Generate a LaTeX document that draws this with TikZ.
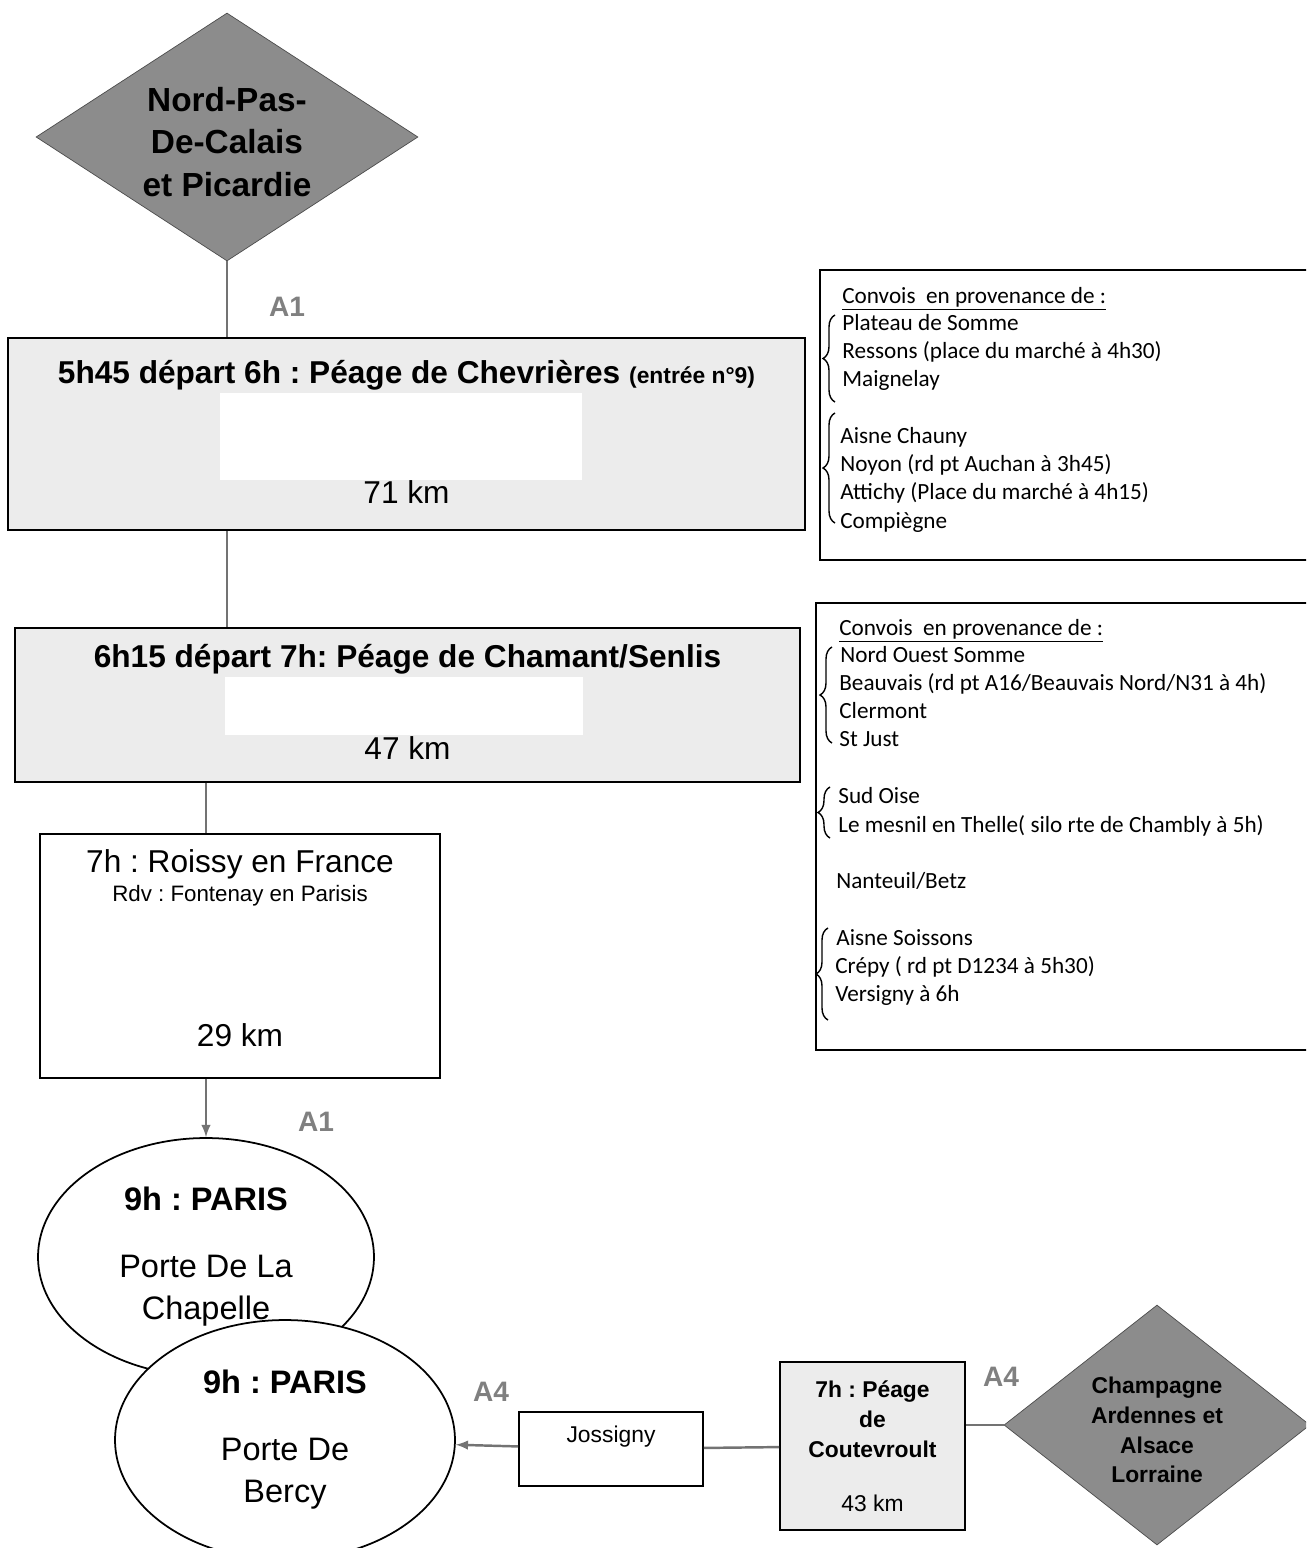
\documentclass[tikz,border=0pt]{standalone}
\usepackage{fontspec}
\setmainfont{Liberation Sans}
\newfontfamily\calib{Carlito}
\usetikzlibrary{shapes.geometric,decorations.pathreplacing}
\frenchspacing

\begin{document}
\begin{tikzpicture}[x=0.02cm,y=-0.02cm,
    link/.style={line width=1.4pt,black!55},
    arrow/.style={link,-latex},
    box/.style={draw,line width=1pt,align=center,inner sep=0pt},
    gbox/.style={box,fill=gray!15},
    region/.style={diamond,draw=black!70,fill=gray!90,align=center,inner sep=0pt},
    ville/.style={ellipse,draw,line width=1pt,fill=white,align=center,inner sep=0pt,font=\fontsize{18.5}{24.4}\selectfont},
    road/.style={font=\fontsize{16}{16}\selectfont\bfseries,text=black!50},
    liste/.style={anchor=base west,inner sep=0pt,font=\calib\fontsize{13.2}{16}\selectfont},
    accolade/.style={decorate,decoration={brace,amplitude=0.24cm},line width=0.8pt}]
\useasboundingbox (0,0) rectangle (1306,1548);
\clip (0,0) rectangle (1306,1548);

% regions de depart
\node[region,minimum width=7.64cm,minimum height=4.96cm,shape aspect=1.54,
      font=\fontsize{19}{24}\selectfont\bfseries] (nord) at (227,137) {\rule{0pt}{19.5pt}Nord-Pas-\\De-Calais\\et Picardie};
\node[region,minimum width=6.12cm,minimum height=4.8cm,shape aspect=1.275,
      font=\fontsize{13}{17}\selectfont\bfseries] (champagne) at (1157,1425) {\rule{0pt}{15pt}Champagne\\Ardennes et\\Alsace\\Lorraine};

% peages A1
\node[gbox,minimum width=15.94cm,minimum height=3.84cm,font=\fontsize{18}{18}\selectfont] (chev) at (406.5,434)
  {{\bfseries 5h45 départ 6h : Péage de Chevrières {\fontsize{13}{14}\selectfont(entrée n°9)}}\\[50.3pt]
   71 km\rule[-2.3pt]{0pt}{0pt}};
\fill[white] (220,393) rectangle (582,480);
\node[gbox,minimum width=15.7cm,minimum height=3.08cm,font=\fontsize{18}{18}\selectfont] (senlis) at (407.5,705)
  {{\bfseries 6h15 départ 7h: Péage de Chamant/Senlis}\\[34.6pt]
   47 km\rule[-3.4pt]{0pt}{0pt}};
\fill[white] (225,677) rectangle (583,735);
\node[box,minimum width=8cm,minimum height=4.88cm,font=\fontsize{18}{16}\selectfont] (roissy) at (240,956)
  {7h : Roissy en France\\{\fontsize{12.7}{15}\selectfont Rdv : Fontenay en Parisis}\\[66.5pt]
   29 km\rule[-9.1pt]{0pt}{0pt}};

% arrivee Paris
\node[ville,minimum width=6.72cm,minimum height=4.76cm] (chapelle) at (206,1257)
  {\textbf{9h : PARIS}\\[13.2pt]Porte De La\\Chapelle};
\node[ville,minimum width=6.8cm,minimum height=4.8cm] (bercy) at (285,1440)
  {\textbf{9h : PARIS}\\[13.2pt]Porte De\\Bercy};

% A4
\node[box,minimum width=3.68cm,minimum height=1.48cm,font=\fontsize{13}{17}\selectfont] (jossigny) at (611,1449)
  {Jossigny\rule[-17pt]{0pt}{0pt}};
\node[gbox,minimum width=3.7cm,minimum height=3.36cm,font=\fontsize{13}{17}\selectfont] (coutevroult) at (872.5,1446)
  {\textbf{7h : Péage}\\\textbf{de}\\\textbf{Coutevroult}\\[13.7pt]43 km};

\draw[link] (nord.south) -- (nord.south |- chev.north);
\draw[link] (chev.south -| nord.south) -- (senlis.north -| nord.south);
\draw[link] (senlis.south -| chapelle.north) -- (roissy.north -| chapelle.north);
\draw[arrow] (roissy.south -| chapelle.north) -- (chapelle.north);
\draw[link] (champagne.west) -- (champagne.west -| coutevroult.east);
\draw[link] (coutevroult) -- (jossigny);
\draw[arrow] (jossigny) -- (bercy);

\node[road] (a1haut) at (287,307) {A1};
\node[road] (a1bas) at (316,1122) {A1};
\node[road] (a4ouest) at (491,1392) {A4};
\node[road] (a4est) at (1001,1377) {A4};

% convois
\draw[line width=1pt] (1320,270) -- (820,270) -- (820,560) -- (1320,560);
\node[liste] (conv1) at (842,303.5) {\underline{Convois\ \ en provenance de :}};
\foreach \x/\y/\t [count=\i] in {842/330.5/{Plateau de Somme},842/358.5/{Ressons (place du marché à 4h30)},
    842/386.5/{Maignelay},840/443.5/{Aisne Chauny},840/471.5/{Noyon (rd pt Auchan à 3h45)},
    840/499.5/{Attichy (Place du marché à 4h15)},840/528.5/{Compiègne}}
  \node[liste] (lieuA\i) at (\x,\y) {\t};
\draw[accolade] (835,402) -- (835,315);
\draw[accolade] (835,523) -- (835,413);

\draw[line width=1pt] (1320,603) -- (816,603) -- (816,1050) -- (1320,1050);
\node[liste] (conv2) at (839,635.5) {\underline{Convois\ \ en provenance de :}};
\foreach \x/\y/\t [count=\i] in {840/662.5/{Nord Ouest Somme},839/690.5/{Beauvais (rd pt A16/Beauvais Nord/N31 à 4h)},
    839/718.5/{Clermont},839/746.5/{St Just},838/803.5/{Sud Oise},838/832.5/{Le mesnil en Thelle( silo rte de Chambly à 5h)},
    836/888.5/{Nanteuil/Betz},836/945.5/{Aisne Soissons},835/973.5/{Crépy ( rd pt D1234 à 5h30)},835/1001.5/{Versigny à 6h}}
  \node[liste] (lieuB\i) at (\x,\y) {\t};
\draw[accolade] (832,743) -- (832,647);
\draw[accolade] (830,838) -- (830,787);
\draw[accolade] (828,1020) -- (828,928);
\end{tikzpicture}
\end{document}
